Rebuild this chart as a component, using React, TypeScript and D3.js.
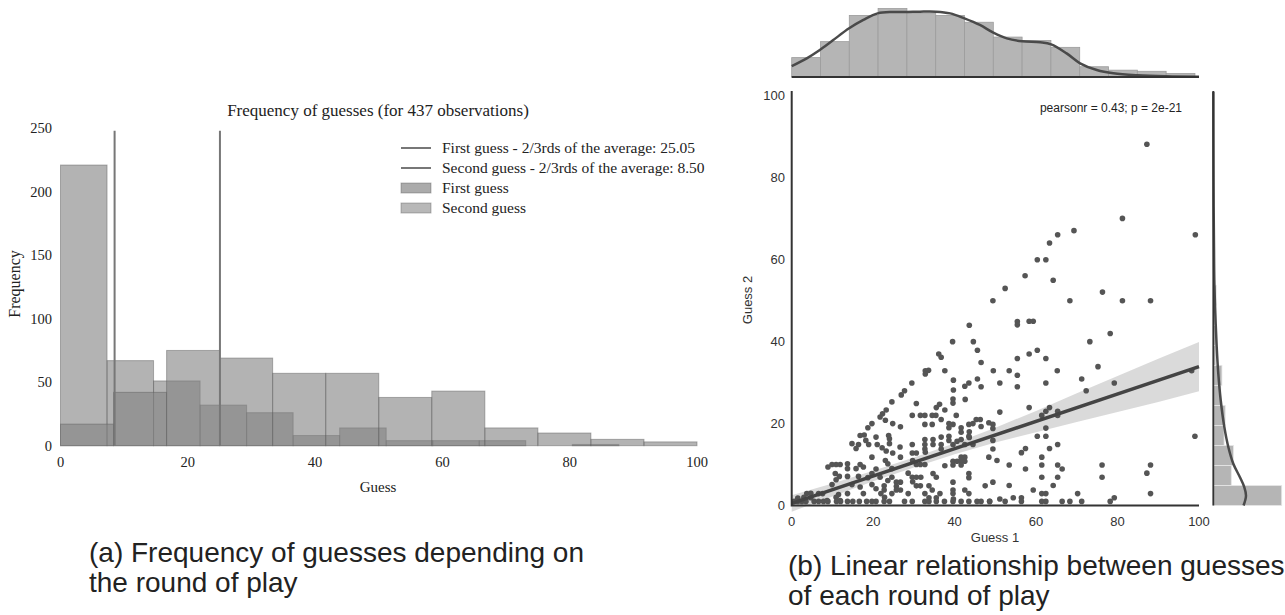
import { useEffect, useRef } from 'react';
import * as d3 from 'd3';

// ---------- (a) frequency of guesses ----------
const firstEdges = [0, 8.33, 16.67, 25, 33.33, 41.67, 50, 58.33, 66.67, 75, 83.33, 91.67, 100];
const firstCounts = [17, 42, 75, 69, 57, 57, 38, 43, 14, 10, 5, 3];
const secondEdges = [0, 7.31, 14.62, 21.93, 29.24, 36.55, 43.86, 51.17, 58.48, 65.79, 73.1, 80.41, 87.72];
const secondCounts = [221, 67, 51, 32, 26, 8, 14, 4, 4, 4, 0, 1];
const leftXTicks = [0, 20, 40, 60, 80, 100];
const leftYTicks = [0, 50, 100, 150, 200, 250];
const averageLines = [
  { label: 'First guess - 2/3rds of the average: 25.05', value: 25.05 },
  { label: 'Second guess - 2/3rds of the average: 8.50', value: 8.5 },
];
const histLabels = ['First guess', 'Second guess'];

// ---------- (b) guess 1 vs guess 2 ----------
const points: [number, number][] = [
  // guess 1 below 25
  [24.6, 25.3], [23.2, 23.3], [22.3, 22.4], [21.7, 21.6], [23.0, 20.8], [24.8, 20.0], [19.7, 20.0], [18.7, 19.0],
  [18.2, 15.9], [16.4, 14.9], [18.9, 14.9], [21.0, 14.9], [15.8, 13.9], [24.0, 16.3], [24.0, 15.1], [22.2, 14.1],
  [23.2, 13.3], [23.0, 11.0], [19.7, 11.8], [17.6, 9.4], [13.7, 10.2], [13.7, 9.0], [10.9, 10], [11.9, 10],
  [9.9, 10], [8.9, 9.4], [10.7, 7.8], [11.7, 7.1], [13.7, 7.1], [9.9, 5.1], [10.9, 6.3], [15.8, 9.0],
  [16.4, 7.1], [14.8, 5.1], [16.8, 4.5], [19.7, 5.1], [20.7, 4.1], [17.6, 2.9], [21.9, 2.9], [22.8, 2.0],
  [3.7, 2.9], [4.7, 3.0], [4.7, 1.9], [7.8, 1], [8.9, 1], [10.9, 2.0], [11.9, 1.2], [13.7, 2.9], [13.7, 1],
  [0.6, 1], [1.5, 1], [2.5, 1], [3.5, 1], [5.5, 1], [6.6, 1], [15, 1], [16.6, 1], [19.7, 1], [20.7, 1], [24, 1],
  [11, 1], [18.4, 1], [22.7, 1], [12, 1], [1.5, 1.8], [3, 2],
  [23.8, 17.1], [20.7, 16.7], [17.8, 17.2], [16.8, 17.1], [14.8, 15.1], [16.8, 10], [6.6, 2.9], [7.6, 2.9],
  [18.7, 6.8], [19.7, 7.8], [20.7, 8.9], [21.7, 6.9], [22.7, 4.8], [22.7, 3.8], [23.6, 6.1], [24.6, 6.9],
  [24.6, 2.9], [24.6, 9], [23.6, 10.2], [8.7, 1.2], [11.5, 2.7],
  // guess 1 from 25 to 51
  [49.4, 50], [43.6, 44], [39.5, 40], [44.6, 40], [45.6, 37.9], [46.5, 34.9], [49.5, 32.9], [36.7, 36.2],
  [36.1, 37], [32.8, 32.9], [33.6, 33], [32.8, 32.1], [37.6, 32.9], [29.5, 29.9], [27.7, 28], [26.9, 27],
  [43.5, 29.9], [42.5, 29.1], [46.5, 29], [45.6, 30.9], [39.7, 30.6], [39.7, 28.2], [39.6, 26], [39.6, 25],
  [42.6, 25.9], [30.6, 24.9], [35.5, 23.9], [36.3, 24.7], [37.6, 23.3],
  [29.6, 22], [31.6, 22], [32.7, 22], [34.5, 22], [35.4, 22], [40.4, 22], [36.7, 21], [38.6, 20],
  [32.7, 19.8], [34.5, 19.8], [38.6, 19], [39.6, 19.8], [41.6, 19], [41.6, 17.9], [43.5, 19.8], [43.6, 18],
  [43.6, 16.6], [45.3, 21], [46.3, 21], [44.5, 20], [46.5, 19.3], [48.4, 20.2], [49.4, 19.8], [49.4, 18.8], [26.7, 19.2],
  [32.7, 16.1], [32.7, 14.9], [32.7, 13.8], [34.7, 16.1], [34.7, 14.9], [36.7, 14.9], [36.7, 13.8], [36.7, 16.7],
  [38.6, 16.9], [38.6, 15.9], [39.6, 14.9], [40.6, 15.7], [41.6, 16.1], [42.5, 14.9], [43.5, 16.9], [44.5, 14.9],
  [29.6, 14.9], [29.6, 12.8], [30.6, 12.8], [26.7, 11.8], [24.8, 12.8], [26.6, 14.3], [31.6, 10], [32.7, 10],
  [30.6, 10], [39.6, 10.8], [39.6, 9.9], [40.6, 10.8], [41.6, 10.8], [42.5, 10.8], [41.6, 9.9], [41.6, 11.8],
  [42.5, 11.8], [48.4, 11.8], [49.4, 13.8], [49.4, 15.9], [50.4, 11], [37.6, 9.7], [29.7, 11], [32.8, 13],
  [28.6, 7.9], [29.6, 6.9], [30.6, 6.9], [31.7, 6.9], [34.7, 7.8], [35.5, 6.9], [25.7, 5.7], [25.7, 4.7],
  [26.7, 5.7], [25.7, 3.8], [26.7, 3.8], [29.7, 5.8], [30.6, 4.8], [31.6, 4.8], [33.7, 4.8], [34.5, 3.8],
  [39.6, 5.7], [39.6, 3.8], [39.6, 2.9], [39.7, 1.6], [42.5, 3.8], [43.5, 2.9], [43.5, 7.8], [43.5, 6.8],
  [47.5, 4.8], [49.4, 5.7], [28.6, 2.9], [32.7, 2.9], [35.5, 1.9], [33.7, 1.9], [36.4, 2.9], [48.6, 1], [51.1, 1.6],
  [27.7, 1], [29.6, 1], [32.7, 1], [33.7, 1], [35.5, 1], [39.6, 1], [41.6, 1], [43.5, 1], [45.5, 1], [48.6, 1],
  [37.5, 1], [46.5, 1],
  // guess 1 above 51
  [68.3, 50], [81.2, 50], [88.1, 50], [55.4, 44.9], [55.4, 44.1], [58.3, 45], [59.3, 45], [78.2, 42],
  [73.2, 40], [55.4, 35.9], [58.3, 37], [60.3, 37.9], [62.4, 35.9], [75.2, 33.9], [53.4, 32.9], [55.4, 31.8],
  [65.2, 32.9], [51.1, 29.9], [55.4, 29], [62.4, 29.9], [71.2, 30.9], [79.2, 29.9], [72.3, 28], [98.2, 32.9],
  [51.1, 22.8], [58.3, 23.9], [61.4, 22], [62.4, 23], [63.3, 23.9], [65.3, 23], [65.3, 22], [62.4, 18.9],
  [60.3, 16.9], [62.4, 16.9], [99, 16.9], [56.4, 12.9], [57.4, 13.9], [63.3, 13.9], [65.3, 14.9], [61.4, 11.8],
  [53.4, 9.9], [57.4, 8.9], [61.4, 9.9], [65.3, 9.9], [66.4, 8.9], [76.2, 9.9], [88.1, 9.9], [61.4, 6.9],
  [65.3, 6.9], [76.2, 6.9], [87.2, 7.9], [53.4, 4.9], [59.3, 3.8], [64.2, 4.9], [61.4, 2.9], [62.4, 2.9],
  [70.2, 2.9], [88.1, 2.9], [54.4, 1.9], [56.4, 1.9], [79.2, 1.9],
  [52.4, 1], [56.4, 1], [61.4, 1], [62.4, 1], [66.4, 1], [68.3, 1], [71.2, 1], [78.2, 1],
  [87.2, 88.2], [81.2, 70.1], [69.3, 67.1], [65.3, 66.1], [63.3, 64.1], [60.3, 60], [62.4, 60], [57.3, 56.1],
  [64.2, 55], [52.4, 53], [99.1, 66.1], [76.3, 52.1],
];
const regLine: [number, number][] = [[0, 0.5], [100, 33.9]];
const ciX = [0, 10, 20, 30, 40, 50, 60, 70, 80, 90, 100];
const ciLow = [-1.5, 2.2, 5.9, 9.3, 12.5, 15.4, 17.9, 20.4, 22.8, 25.3, 27.9];
const ciHigh = [2.5, 5.4, 8.5, 11.7, 15.2, 19.0, 23.1, 27.4, 31.6, 35.8, 39.9];
const topEdges = [0, 7.07, 14.14, 21.21, 28.29, 35.36, 42.43, 49.5, 56.57, 63.64, 70.71, 77.79, 84.86, 91.93, 99];
const topCounts = [17, 31, 54, 60, 56, 54, 48, 35, 32, 26, 9, 6, 5, 3];
const topKde: [number, number][] = [
  [0, 9.6], [3.7, 16.4], [6.9, 23.7], [10.2, 32.4], [14.1, 42.7], [17.6, 50], [21.1, 55.8], [24.9, 57],
  [28.2, 57], [31.5, 57.3], [35.4, 57.3], [38.9, 55.8], [42.4, 51.4], [46.2, 45.6], [49.5, 38.9], [52.8, 33.9],
  [56.6, 31.3], [61, 30.4], [63.7, 28.6], [67.5, 20.7], [70.8, 12], [74.9, 6.1], [79, 3.2], [84.9, 1.5],
  [92, 0.6], [100, 0.2],
];
const sideEdges = [0, 4.89, 9.78, 14.67, 19.56, 24.44, 29.33, 34.22, 39.11, 44, 48.89, 53.78, 58.67, 63.56, 68.44, 73.33, 78.22, 83.11, 88];
const sideCounts = [190, 50, 56, 30, 33, 21, 24, 7, 7, 5, 8, 2, 2, 1, 1, 1, 0, 1];
const sideKde: [number, number][] = [
  [0, 84], [2.4, 90.8], [4.5, 86], [6.9, 74], [10.2, 55.6], [14.3, 41.7], [19.2, 30.6], [25.7, 20.6],
  [32.2, 13.9], [38.8, 9.4], [46.9, 5.6], [55.1, 2.8], [63.2, 1.9], [71.4, 1.1], [80, 0.6], [90, 0.3], [101, 0.1],
];
const rightTicks = [0, 20, 40, 60, 80, 100];

const serif = '"Liberation Serif", "Times New Roman", serif';
const sans = '"Liberation Sans", Arial, sans-serif';

export default function App() {
  const svgRef = useRef<SVGSVGElement>(null);

  useEffect(() => {
    const svg = d3.select(svgRef.current);
    svg.selectAll('*').remove();

    // ===== (a) =====
    const x = d3.scaleLinear().domain([0, 100]).range([60.5, 697]);
    const y = d3.scaleLinear().domain([0, 250]).range([445.7, 128.2]);
    const left = svg.append('g');

    const drawHist = (edges: number[], counts: number[]) => {
      left
        .append('g')
        .selectAll('rect')
        .data(counts)
        .enter()
        .append('rect')
        .attr('display', (d) => (d > 0 ? null : 'none'))
        .attr('x', (_, i) => x(edges[i]))
        .attr('y', (d) => y(d))
        .attr('width', (_, i) => x(edges[i + 1]) - x(edges[i]))
        .attr('height', (d) => y(0) - y(d))
        .attr('fill', '#808080')
        .attr('fill-opacity', 0.6)
        .attr('stroke', '#5a5a5a')
        .attr('stroke-opacity', 0.45)
        .attr('stroke-width', 1);
    };
    drawHist(secondEdges, secondCounts);
    drawHist(firstEdges, firstCounts);

    // 2/3 of average lines
    left
      .selectAll('.avg')
      .data(averageLines)
      .enter()
      .append('line')
      .attr('x1', (d) => x(d.value))
      .attr('x2', (d) => x(d.value))
      .attr('y1', y(0))
      .attr('y2', y(248))
      .attr('stroke', '#777')
      .attr('stroke-width', 2);

    // ticks
    left
      .selectAll('.xt')
      .data(leftXTicks)
      .enter()
      .append('text')
      .attr('x', (d) => x(d))
      .attr('y', 467)
      .attr('text-anchor', 'middle')
      .attr('font-family', serif)
      .attr('font-size', 14.5)
      .attr('fill', '#222')
      .text((d) => d);
    left
      .selectAll('.yt')
      .data(leftYTicks)
      .enter()
      .append('text')
      .attr('x', 52)
      .attr('y', (d) => y(d))
      .attr('dy', '0.35em')
      .attr('text-anchor', 'end')
      .attr('font-family', serif)
      .attr('font-size', 14.5)
      .attr('fill', '#222')
      .text((d) => d);

    left
      .append('text')
      .attr('x', 378)
      .attr('y', 116)
      .attr('text-anchor', 'middle')
      .attr('font-family', serif)
      .attr('font-size', 17)
      .attr('fill', '#222')
      .text('Frequency of guesses (for 437 observations)');
    left
      .append('text')
      .attr('x', 378)
      .attr('y', 492)
      .attr('text-anchor', 'middle')
      .attr('font-family', serif)
      .attr('font-size', 15)
      .attr('fill', '#222')
      .text('Guess');
    left
      .append('text')
      .attr('transform', 'translate(20,284) rotate(-90)')
      .attr('text-anchor', 'middle')
      .attr('font-family', serif)
      .attr('font-size', 16)
      .attr('fill', '#222')
      .text('Frequency');

    // legend
    const legend = left.append('g').attr('transform', 'translate(401,148)');
    averageLines.forEach((d, i) => {
      legend
        .append('line')
        .attr('x1', 0)
        .attr('x2', 30)
        .attr('y1', i * 20)
        .attr('y2', i * 20)
        .attr('stroke', '#777')
        .attr('stroke-width', 2);
      legend
        .append('text')
        .attr('x', 41)
        .attr('y', i * 20)
        .attr('dy', '0.35em')
        .attr('font-family', serif)
        .attr('font-size', 15.5)
        .attr('fill', '#222')
        .text(d.label);
    });
    histLabels.forEach((d, i) => {
      const cy = (i + 2) * 20;
      legend
        .append('rect')
        .attr('x', 0)
        .attr('y', cy - 5)
        .attr('width', 30)
        .attr('height', 10)
        .attr('fill', '#808080')
        .attr('fill-opacity', i === 0 ? 0.66 : 0.56)
        .attr('stroke', '#5a5a5a')
        .attr('stroke-opacity', 0.4);
      legend
        .append('text')
        .attr('x', 41)
        .attr('y', cy)
        .attr('dy', '0.35em')
        .attr('font-family', serif)
        .attr('font-size', 15.5)
        .attr('fill', '#222')
        .text(d);
    });

    // ===== (b) =====
    const sx = d3.scaleLinear().domain([0, 100]).range([791.7, 1199]);
    const sy = d3.scaleLinear().domain([0, 101.2]).range([505.5, 91]);
    const right = svg.append('g');

    right
      .append('g')
      .selectAll('circle')
      .data(points)
      .enter()
      .append('circle')
      .attr('cx', (d) => sx(d[0]))
      .attr('cy', (d) => sy(d[1]))
      .attr('r', 2.8)
      .attr('fill', '#555');

    const band = d3
      .area<number>()
      .x((d) => sx(d))
      .y0((_, i) => sy(ciLow[i]))
      .y1((_, i) => sy(ciHigh[i]));
    right
      .append('path')
      .attr('d', band(ciX))
      .attr('fill', '#444')
      .attr('fill-opacity', 0.2);
    right
      .append('path')
      .attr('d', d3.line<[number, number]>().x((d) => sx(d[0])).y((d) => sy(d[1]))(regLine))
      .attr('stroke', '#444')
      .attr('stroke-width', 3.5)
      .attr('fill', 'none');

    // spines
    right
      .append('path')
      .attr('d', `M${sx(0)},${sy(101.2)}V${sy(0)}H${sx(100)}`)
      .attr('stroke', '#333')
      .attr('stroke-width', 2)
      .attr('fill', 'none');

    right
      .selectAll('.rxt')
      .data(rightTicks)
      .enter()
      .append('text')
      .attr('x', (d) => sx(d))
      .attr('y', 526)
      .attr('text-anchor', 'middle')
      .attr('font-family', sans)
      .attr('font-size', 13)
      .attr('fill', '#333')
      .text((d) => d);
    right
      .selectAll('.ryt')
      .data(rightTicks)
      .enter()
      .append('text')
      .attr('x', 785)
      .attr('y', (d) => sy(d))
      .attr('dy', '0.35em')
      .attr('text-anchor', 'end')
      .attr('font-family', sans)
      .attr('font-size', 13)
      .attr('fill', '#333')
      .text((d) => d);
    right
      .append('text')
      .attr('x', 995)
      .attr('y', 542)
      .attr('text-anchor', 'middle')
      .attr('font-family', sans)
      .attr('font-size', 13)
      .attr('fill', '#333')
      .text('Guess 1');
    right
      .append('text')
      .attr('transform', 'translate(752,300) rotate(-90)')
      .attr('text-anchor', 'middle')
      .attr('font-family', sans)
      .attr('font-size', 13)
      .attr('fill', '#333')
      .text('Guess 2');
    right
      .append('text')
      .attr('x', 1111)
      .attr('y', 112)
      .attr('text-anchor', 'middle')
      .attr('font-family', sans)
      .attr('font-size', 12)
      .attr('fill', '#222')
      .text('pearsonr = 0.43; p = 2e-21');

    // top marginal
    const ty = d3.scaleLinear().domain([0, 67.5]).range([77, 0]);
    right
      .append('g')
      .selectAll('rect')
      .data(topCounts)
      .enter()
      .append('rect')
      .attr('x', (_, i) => sx(topEdges[i]))
      .attr('y', (d) => ty(d))
      .attr('width', (_, i) => sx(topEdges[i + 1]) - sx(topEdges[i]))
      .attr('height', (d) => ty(0) - ty(d))
      .attr('fill', '#b5b5b5')
      .attr('stroke', '#9c9c9c')
      .attr('stroke-width', 0.8);
    right
      .append('path')
      .attr('d', d3.line<[number, number]>().x((d) => sx(d[0])).y((d) => ty(d[1])).curve(d3.curveCatmullRom)(topKde))
      .attr('stroke', '#4a4a4a')
      .attr('stroke-width', 2.5)
      .attr('fill', 'none');
    right
      .append('line')
      .attr('x1', sx(0))
      .attr('x2', sx(100))
      .attr('y1', ty(0))
      .attr('y2', ty(0))
      .attr('stroke', '#333')
      .attr('stroke-width', 1.8);

    // side marginal
    const rx = d3.scaleLinear().domain([0, 200]).range([1213.3, 1285.3]);
    right
      .append('g')
      .selectAll('rect')
      .data(sideCounts)
      .enter()
      .append('rect')
      .attr('display', (d) => (d > 0 ? null : 'none'))
      .attr('x', rx(0))
      .attr('y', (_, i) => sy(sideEdges[i + 1]))
      .attr('width', (d) => rx(d) - rx(0))
      .attr('height', (_, i) => sy(sideEdges[i]) - sy(sideEdges[i + 1]))
      .attr('fill', '#b5b5b5')
      .attr('stroke', '#e6e6e6')
      .attr('stroke-width', 0.8);
    right
      .append('path')
      .attr('d', d3.line<[number, number]>().x((d) => rx(d[1])).y((d) => sy(d[0])).curve(d3.curveCatmullRom)(sideKde))
      .attr('stroke', '#4a4a4a')
      .attr('stroke-width', 2.5)
      .attr('fill', 'none');
    right
      .append('line')
      .attr('x1', rx(0))
      .attr('x2', rx(0))
      .attr('y1', sy(101.2))
      .attr('y2', sy(0))
      .attr('stroke', '#333')
      .attr('stroke-width', 1.8);

    // captions
    const captions = [
      { x: 89, y: 562, text: '(a) Frequency of guesses depending on' },
      { x: 89, y: 592, text: 'the round of play' },
      { x: 788, y: 575, text: '(b) Linear relationship between guesses' },
      { x: 788, y: 605, text: 'of each round of play' },
    ];
    svg
      .selectAll('.cap')
      .data(captions)
      .enter()
      .append('text')
      .attr('x', (d) => d.x)
      .attr('y', (d) => d.y)
      .attr('font-family', sans)
      .attr('font-size', 28)
      .attr('fill', '#222')
      .text((d) => d.text);
  }, []);

  return (
    <svg
      ref={svgRef}
      width={1285}
      height={615}
      style={{ position: 'absolute', left: 0, top: 0, background: '#fff' }}
    />
  );
}
